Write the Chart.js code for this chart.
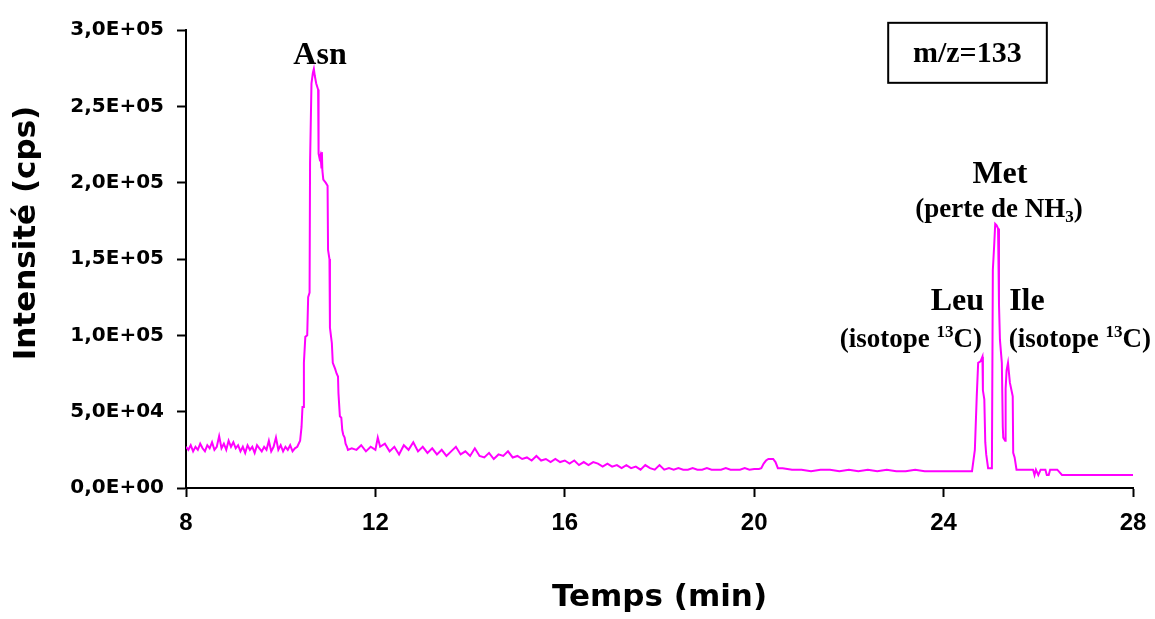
<!DOCTYPE html>
<html>
<head>
<meta charset="utf-8">
<script src="https://cdn.jsdelivr.net/npm/chart.js@4/dist/chart.umd.min.js"></script>
<style>
  html, body { margin: 0; padding: 0; background: #ffffff; }
  #wrap { width: 1155px; height: 619px; }
</style>
</head>
<body>
<div id="wrap"><canvas id="c" width="1155" height="619"></canvas></div>
<script>
// ---- Data ----
const times = [
  8.00, 8.05, 8.10, 8.15, 8.20, 8.25, 8.30, 8.35, 8.40, 8.45, 8.50, 8.55, 8.60, 8.65, 8.70, 8.75,
  8.80, 8.85, 8.90, 8.95, 9.00, 9.05, 9.10, 9.15, 9.20, 9.25, 9.30, 9.35, 9.40, 9.45, 9.50, 9.55,
  9.60, 9.65, 9.70, 9.75, 9.80, 9.85, 9.90, 9.95, 10.00, 10.05, 10.10, 10.15, 10.20, 10.25, 10.30, 10.35,
  10.41, 10.44, 10.46, 10.48, 10.49, 10.52, 10.56, 10.58, 10.61, 10.62, 10.65, 10.68, 10.70, 10.72, 10.75, 10.79,
  10.80, 10.82, 10.84, 10.86, 10.87, 10.88, 10.90, 10.95, 10.99, 11.00, 11.03, 11.04, 11.08, 11.10, 11.15, 11.18,
  11.21, 11.22, 11.25, 11.28, 11.30, 11.32, 11.35, 11.37, 11.40, 11.42,
  11.5, 11.6, 11.7, 11.8, 11.9, 12.0, 12.05, 12.1, 12.2, 12.3, 12.4, 12.5, 12.6, 12.7, 12.8, 12.9,
  13.0, 13.1, 13.2, 13.3, 13.4, 13.5, 13.6, 13.7, 13.8, 13.9, 14.0, 14.1, 14.2, 14.3, 14.4, 14.5,
  14.6, 14.7, 14.8, 14.9, 15.0, 15.1, 15.2, 15.3, 15.4, 15.5, 15.6, 15.7, 15.8, 15.9, 16.0, 16.1,
  16.2, 16.3, 16.4, 16.5, 16.6, 16.7, 16.8, 16.9, 17.0, 17.1, 17.2, 17.3, 17.4, 17.5, 17.6, 17.7,
  17.8, 17.9, 18.0, 18.1, 18.2, 18.3, 18.4, 18.5, 18.6, 18.7, 18.8, 18.9, 19.0, 19.1, 19.2, 19.3,
  19.4, 19.5, 19.6, 19.7, 19.8, 19.9, 20.0, 20.1, 20.15, 20.2, 20.25, 20.3, 20.4, 20.45, 20.5, 20.6,
  20.7, 20.8, 21.0, 21.2, 21.4, 21.6, 21.8, 22.0, 22.2, 22.4, 22.6, 22.8, 23.0, 23.2, 23.4, 23.6,
  23.8, 24.0, 24.2, 24.4, 24.6,
  24.62, 24.66, 24.70, 24.73, 24.78, 24.82, 24.83, 24.86, 24.88, 24.90, 24.94, 25.02, 25.04, 25.07, 25.09, 25.12,
  25.15, 25.17, 25.19, 25.23, 25.25, 25.26, 25.30, 25.31, 25.33, 25.36, 25.40, 25.44, 25.46, 25.47, 25.50, 25.54,
  25.70, 25.89, 25.92, 25.95, 26.00, 26.05, 26.15, 26.18, 26.22, 26.25, 26.40, 26.50, 27.00, 27.50, 28.00
];
const intensities = [
  27000, 25000, 28000, 24000, 27000, 25000, 29000, 26000, 24000, 28000, 26000, 30000, 25000, 27000, 34000, 26000,
  29000, 25000, 31000, 27000, 30000, 26000, 28000, 24000, 27000, 23000, 28000, 25000, 27000, 23000, 28000, 26000,
  24000, 27000, 25000, 31000, 24000, 27000, 33000, 25000, 28000, 24000, 27000, 25000, 28000, 24000, 26000, 27000,
  31000, 40000, 53000, 53000, 82000, 99000, 100000, 125000, 128000, 213000, 265000, 272000, 274500, 270000, 265000, 261000,
  219000, 216000, 218000, 210000, 220000, 208000, 202000, 200000, 198000, 156000, 150000, 105000, 95000, 82000, 78000, 75000,
  73000, 62000, 47000, 46000, 38000, 35000, 33000, 29000, 27000, 25000,
  26000, 25000, 28000, 24000, 27000, 25000, 33000, 27000, 29000, 24000, 27000, 22000, 28000, 25000, 30000, 24000,
  27000, 23000, 26000, 22000, 25000, 21000, 24000, 27000, 22000, 24000, 21000, 26000, 21000, 20000, 23000, 19000,
  22000, 21000, 24000, 20000, 21000, 19000, 20000, 18000, 21000, 18000, 19000, 17000, 19000, 17000, 18000, 16000,
  18000, 15000, 17000, 15000, 17000, 16000, 14000, 16000, 14000, 15000, 13000, 15000, 13000, 14000, 12000, 15000,
  13000, 12000, 15000, 12000, 13000, 12000, 13000, 12000, 12000, 13000, 12000, 12000, 13000, 12000, 12000, 12000,
  13000, 12000, 12000, 12000, 13000, 12000, 12500, 12500, 13000, 16000, 18000, 19000, 19000, 17000, 13000, 13000,
  12500, 12000, 12000, 11000, 12000, 12000, 11000, 12000, 11000, 12000, 11000, 12000, 11000, 11000, 12000, 11000,
  11000, 11000, 11000, 11000, 11000,
  11000, 25000, 60000, 82000, 83000, 86000, 64000, 58000, 30000, 22000, 13000, 13000, 143000, 160000, 173000, 172000,
  170000, 120000, 97000, 82000, 40000, 33000, 31000, 65000, 77000, 82000, 69000, 63000, 60000, 23000, 20000, 12000,
  12000, 12000, 8500, 12000, 8500, 12000, 12000, 8500, 8500, 12000, 12000, 8500, 8500, 8500, 8500
];
const xTickValues = [8, 12, 16, 20, 24, 28];
const yTickValues = [0, 50000, 100000, 150000, 200000, 250000, 300000];
const xTitle = 'Temps (min)';
const yTitle = 'Intensité (cps)';
const boxLabel = 'm/z=133';

// peak annotations: [x (min), y (cps baseline), text segments]
const peakNotes = [
  { x: 10.83, y: 277800, size: 32, parts: [['Asn', 0]] },
  { x: 25.19, y: 199900, size: 32, parts: [['Met', 0]] },
  { x: 25.17, y: 177600, size: 27, parts: [['(perte de NH', 0], ['3', 1], [')', 0]] },
  { x: 24.29, y: 116600, size: 32, parts: [['Leu', 0]] },
  { x: 23.31, y: 92400, size: 27, parts: [['(isotope ', 0], ['13', -1], ['C)', 0]] },
  { x: 25.76, y: 116600, size: 32, parts: [['Ile', 0]] },
  { x: 26.88, y: 92400, size: 27, parts: [['(isotope ', 0], ['13', -1], ['C)', 0]] }
];
const boxNote = { x1: 22.83, x2: 26.18, y1: 304700, y2: 265400, tx: 24.5, ty: 279200, size: 30 };

function fmtSci(v) {
  if (v === 0) return '0,0E+00';
  const s = v.toExponential(1);
  const [m, e] = s.split('e');
  const sign = e[0] === '-' ? '-' : '+';
  const ex = e.replace(/^[+-]/, '').padStart(2, '0');
  return m.replace('.', ',') + 'E' + sign + ex;
}

const points = times.map((t, i) => ({ x: t, y: intensities[i] }));

const annotPlugin = {
  id: 'annot',
  afterDatasetsDraw(chart) {
    const ctx = chart.ctx;
    const xs = chart.scales.x, ys = chart.scales.y;
    ctx.save();
    ctx.fillStyle = '#000';
    ctx.textBaseline = 'alphabetic';
    ctx.textAlign = 'left';
    const serif = '"Liberation Serif", "Times New Roman", serif';
    peakNotes.forEach(n => {
      const main = 'bold ' + n.size + 'px ' + serif;
      const small = 'bold ' + Math.round(n.size * 0.62) + 'px ' + serif;
      let w = 0;
      n.parts.forEach(p => { ctx.font = p[1] === 0 ? main : small; w += ctx.measureText(p[0]).width; });
      let cx = xs.getPixelForValue(n.x) - w / 2;
      const by = ys.getPixelForValue(n.y);
      n.parts.forEach(p => {
        ctx.font = p[1] === 0 ? main : small;
        const off = p[1] === 0 ? 0 : (p[1] > 0 ? n.size * 0.18 : -n.size * 0.36);
        ctx.fillText(p[0], cx, by + off);
        cx += ctx.measureText(p[0]).width;
      });
    });
    // boxed label
    const bx1 = xs.getPixelForValue(boxNote.x1), bx2 = xs.getPixelForValue(boxNote.x2);
    const by1 = ys.getPixelForValue(boxNote.y1), by2 = ys.getPixelForValue(boxNote.y2);
    ctx.strokeStyle = '#000';
    ctx.lineWidth = 2;
    ctx.strokeRect(bx1, by1, bx2 - bx1, by2 - by1);
    ctx.font = 'bold ' + boxNote.size + 'px ' + serif;
    ctx.textAlign = 'center';
    ctx.fillText(boxLabel, xs.getPixelForValue(boxNote.tx), ys.getPixelForValue(boxNote.ty));

    // axis titles
    const sans = '"DejaVu Sans", sans-serif';
    ctx.font = 'bold 31px ' + sans;
    ctx.textAlign = 'center';
    ctx.textBaseline = 'alphabetic';
    ctx.fillText(xTitle, (chart.chartArea.left + chart.chartArea.right) / 2, 606);
    ctx.translate(35, 233);
    ctx.rotate(-Math.PI / 2);
    ctx.font = 'bold 31px ' + sans;
    ctx.fillText(yTitle, 0, 0);
    ctx.restore();
  }
};

new Chart(document.getElementById('c'), {
  type: 'scatter',
  data: {
    datasets: [{
      data: points,
      showLine: true,
      borderColor: '#ff00ff',
      borderWidth: 2,
      pointRadius: 0,
      tension: 0,
      fill: false
    }]
  },
  options: {
    responsive: false,
    devicePixelRatio: 1,
    animation: false,
    layout: { padding: { left: 0, right: 22, top: 30, bottom: 0 } },
    plugins: { legend: { display: false }, tooltip: { enabled: false } },
    scales: {
      x: {
        type: 'linear',
        min: 8, max: 28,
        afterBuildTicks(s) { s.ticks = xTickValues.map(v => ({ value: v })); },
        afterFit(s) { s.height = 131; s.paddingLeft = 0; s.paddingRight = 0; },
        grid: { display: true, drawOnChartArea: false, drawTicks: true, tickLength: 9, tickWidth: 2, tickColor: '#000' },
        border: { display: true, color: '#000', width: 2 },
        ticks: {
          color: '#000', padding: 12, maxRotation: 0,
          font: { family: '"Liberation Sans", Arial, sans-serif', weight: 'bold', size: 24 },
          callback: v => String(v)
        },
        title: { display: false }
      },
      y: {
        type: 'linear',
        min: 0, max: 300000,
        afterBuildTicks(s) { s.ticks = yTickValues.map(v => ({ value: v })); },
        afterFit(s) { s.width = 186; s.paddingTop = 0; s.paddingBottom = 0; },
        grid: { display: true, drawOnChartArea: false, drawTicks: true, tickLength: 9, tickWidth: 2, tickColor: '#000' },
        border: { display: true, color: '#000', width: 2 },
        ticks: {
          color: '#000', padding: 13,
          font: { family: '"DejaVu Sans", sans-serif', weight: 'bold', size: 20 },
          callback: v => fmtSci(v)
        },
        title: { display: false }
      }
    }
  },
  plugins: [annotPlugin]
});
</script>
</body>
</html>
